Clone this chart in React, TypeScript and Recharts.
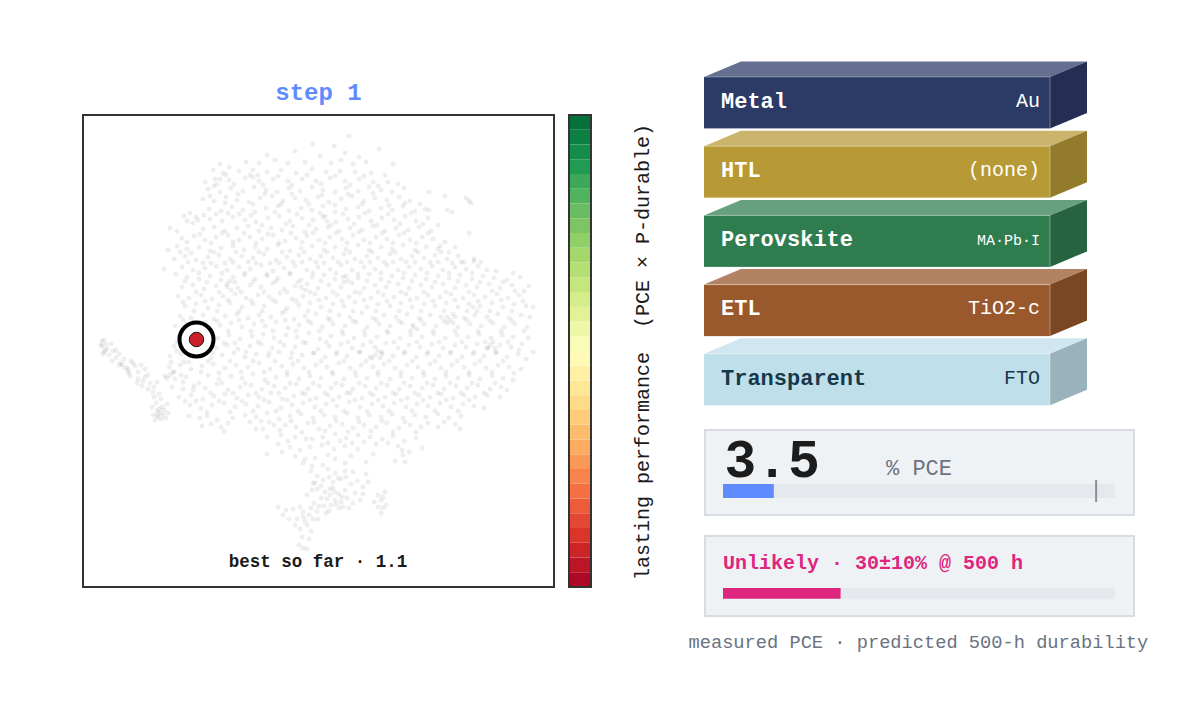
import React from 'react';
import { ScatterChart, Scatter, XAxis, YAxis, ZAxis, ReferenceArea, BarChart, Bar, ReferenceLine } from 'recharts';

const MONO = '"Liberation Mono", monospace';

// t-SNE embedding (x, y pairs in plot units)
const tsneFlat = [
266,451, 230,443, 251,441, 296,438, 184,432, 212,436, 163,425, 237,431, 262,434, 276,430,
137,423, 146,420, 176,424, 192,427, 205,424, 222,425, 248,424, 258,427, 270,423, 283,425, 310,423,
130,417, 140,414, 156,416, 170,417, 184,415, 198,417, 213,414, 229,418, 243,415, 257,416, 272,415, 288,414, 302,412,
122,405, 132,408, 146,407, 162,409, 176,406, 190,408, 205,406, 219,408, 233,406, 247,409, 262,406, 276,408, 290,405, 305,405, 134,403, 137,408, 131,401,
125,398, 137,395, 148,399, 160,396, 171,400, 183,397, 194,395, 206,399, 217,396, 229,400, 240,397, 252,395, 263,399, 275,396, 286,400, 298,397, 309,395, 321,399,
120,388, 131,386, 143,390, 154,387, 166,385, 177,389, 189,391, 200,386, 212,389, 223,387, 235,390, 246,385, 258,388, 269,391, 281,386, 292,389, 304,387, 316,390, 327,386, 346,395, 362,391, 383,389, 386,386, 388,384,
126,378, 138,376, 149,380, 160,377, 172,375, 183,379, 195,381, 206,376, 218,379, 229,377, 240,381, 252,375, 263,378, 275,380, 286,376, 298,379, 309,377, 320,381, 332,376, 342,378, 346,377, 364,377, 369,375,
101,371, 107,374, 113,370, 104,366, 110,364, 115,367, 127,368, 139,366, 150,370, 162,367, 173,365, 185,369, 196,371, 207,366, 219,369, 230,367, 242,371, 253,365, 265,368, 276,370, 288,366, 299,369, 311,367, 322,371, 333,366, 345,369,
87,359, 94,356, 120,358, 131,360, 142,356, 154,359, 165,361, 176,356, 188,359, 199,357, 210,361, 222,355, 233,358, 245,360, 256,356, 267,359, 279,357, 290,361, 302,356, 313,359, 325,357, 336,360, 348,356, 386,354,
99,349, 111,351, 122,347, 133,350, 145,352, 156,347, 167,350, 179,348, 190,352, 202,346, 213,349, 224,351, 236,347, 247,350, 259,348, 270,352, 281,347, 293,350, 304,348, 316,352, 327,347, 339,350, 350,348, 362,345,
85,337, 94,341, 104,338, 116,340, 127,336, 138,339, 150,341, 161,337, 172,340, 184,338, 195,342, 207,336, 218,339, 229,341, 241,337, 252,340, 263,338, 275,342, 286,337, 298,340, 309,338, 320,342, 332,337, 343,340, 355,338, 366,335,
91,328, 102,331, 113,327, 125,330, 136,332, 147,328, 159,331, 170,329, 181,333, 193,327, 204,330, 216,332, 227,328, 238,331, 250,329, 261,333, 272,328, 284,331, 295,329, 307,333, 318,328, 329,331, 341,329, 352,332, 364,328, 375,331, 391,328, 391,326,
81,318, 99,320, 110,317, 122,319, 133,321, 144,317, 156,320, 167,318, 178,322, 190,316, 201,319, 212,321, 224,317, 235,320, 247,318, 258,322, 269,317, 281,320, 292,318, 304,322, 315,317, 326,320, 338,318, 349,321, 360,317, 372,320, 383,318, 395,321, 404,317,
104,310, 116,308, 127,311, 138,307, 150,310, 161,312, 172,308, 184,311, 195,309, 207,313, 218,307, 229,310, 241,312, 252,308, 263,311, 275,309, 286,313, 298,308, 309,311, 320,309, 332,312, 343,308, 355,311, 366,309, 377,312, 389,308, 400,311, 411,309, 424,307, 437,310,
99,300, 110,302, 121,298, 133,301, 144,303, 155,299, 167,302, 178,300, 190,304, 201,298, 212,301, 224,303, 235,299, 246,302, 258,300, 269,304, 281,299, 292,302, 303,300, 315,303, 326,299, 338,302, 349,300, 360,303, 372,299, 383,302, 394,300, 406,303, 417,299, 429,302, 446,301,
95,291, 106,289, 118,292, 129,288, 140,291, 152,293, 163,289, 175,292, 186,290, 197,294, 209,288, 220,291, 232,293, 243,289, 254,292, 266,290, 277,294, 288,289, 300,292, 311,290, 323,293, 334,289, 345,292, 357,290, 368,293, 380,289, 391,292, 402,290, 414,293, 425,289, 436,292,
102,281, 113,283, 125,279, 136,282, 147,284, 159,280, 170,283, 181,281, 193,285, 204,279, 216,282, 227,284, 238,280, 250,283, 261,281, 272,285, 284,280, 295,283, 307,281, 318,284, 329,280, 341,283, 352,281, 363,284, 375,280, 386,283, 397,281, 409,284, 420,280, 431,283, 443,281, 450,280,
97,271, 108,269, 120,272, 131,268, 142,271, 154,273, 165,269, 176,272, 188,270, 199,274, 211,268, 222,271, 233,273, 245,269, 256,272, 267,270, 279,274, 290,269, 301,272, 313,270, 324,273, 336,269, 347,272, 358,270, 370,273, 381,269, 392,272, 404,270, 415,273, 426,269, 438,272, 447,270,
92,261, 103,263, 125,259, 137,262, 148,264, 159,260, 171,263, 182,261, 193,265, 205,259, 216,262, 228,264, 239,260, 250,263, 262,261, 273,265, 284,260, 296,263, 307,261, 319,264, 330,260, 341,263, 353,261, 364,264, 375,260, 387,263, 398,261, 410,264, 421,260, 432,263, 444,260,
96,251, 135,249, 146,252, 157,248, 169,251, 180,253, 191,249, 203,252, 214,250, 226,254, 237,248, 248,251, 260,253, 271,249, 282,252, 294,250, 305,254, 317,249, 328,252, 339,250, 351,253, 362,249, 374,252, 385,250, 396,253, 408,249, 419,252, 430,250, 445,249,
19,241, 24,238, 91,241, 133,239, 144,242, 155,238, 167,241, 178,243, 189,239, 201,242, 212,240, 223,244, 235,238, 246,241, 258,243, 269,239, 280,242, 292,240, 303,244, 315,239, 326,242, 337,240, 349,243, 360,239, 372,242, 383,240, 394,243, 405,239, 417,242, 428,240, 439,243, 450,235,
26,232, 33,229, 21,235, 87,231, 98,233, 128,229, 139,232, 151,234, 162,230, 173,233, 185,231, 196,235, 208,229, 219,232, 230,234, 242,230, 253,233, 264,231, 276,235, 287,230, 299,233, 310,231, 321,234, 333,230, 344,233, 356,231, 367,234, 379,230, 390,233, 401,231, 413,234, 424,230, 435,233,
36,222, 45,219, 52,221, 86,220, 97,222, 108,218, 119,221, 130,223, 142,219, 153,222, 165,220, 176,224, 187,218, 199,221, 210,223, 221,219, 233,222, 244,220, 256,224, 267,219, 278,222, 290,220, 301,223, 312,219, 324,222, 335,220, 347,223, 358,219, 369,222, 381,220, 392,223, 403,219, 415,222, 426,220, 438,218,
47,211, 55,208, 62,210, 82,211, 92,208, 103,210, 125,212, 136,208, 148,211, 159,209, 170,213, 182,207, 193,210, 204,212, 216,208, 227,211, 238,209, 250,213, 261,208, 273,211, 284,209, 295,212, 307,208, 318,211, 329,209, 341,212, 352,208, 363,211, 375,209, 386,212, 397,208, 409,211, 420,209, 430,207,
59,201, 65,198, 71,200, 89,200, 100,198, 111,201, 122,199, 134,203, 145,197, 157,200, 168,202, 179,198, 191,201, 202,199, 213,203, 225,198, 236,201, 248,199, 259,202, 270,198, 282,201, 293,199, 304,202, 316,198, 327,201, 339,199, 350,202, 361,198, 373,201, 384,199, 395,202, 407,198, 418,200, 424,197,
71,190, 76,193, 96,190, 108,192, 120,188, 131,191, 142,193, 154,189, 165,192, 176,190, 188,194, 199,188, 211,191, 222,193, 233,189, 245,192, 256,190, 267,194, 279,189, 290,192, 302,190, 313,193, 324,189, 336,192, 347,190, 358,193, 370,189, 381,192, 392,190, 404,192, 417,190,
79,180, 84,183, 107,182, 118,179, 129,182, 141,184, 152,180, 163,183, 175,181, 186,185, 198,179, 209,182, 220,184, 232,180, 243,183, 254,181, 266,185, 277,180, 289,183, 300,181, 311,184, 323,180, 334,183, 345,181, 357,184, 368,180, 380,183, 391,181, 401,179,
74,176, 77,174, 80,172, 75,170, 78,168, 106,171, 117,169, 124,171, 134,167, 150,169, 162,172, 173,170, 184,174, 196,168, 207,171, 218,173, 230,169, 241,172, 252,170, 264,174, 275,169, 286,172, 298,170, 309,173, 320,169, 332,172, 343,170, 355,173, 366,169, 378,171,
119,161, 138,160, 141,156, 173,158, 180,158, 191,162, 202,162, 213,160, 225,164, 236,158, 247,161, 259,163, 270,159, 281,162, 293,160, 304,164, 316,159, 327,162, 338,160, 355,160, 377,158,
184,150, 198,152, 212,150, 223,148, 240,150, 252,153, 263,149, 275,152, 287,150, 299,148, 310,151, 321,146, 333,149,
184,133, 207,140, 217,137, 195,143, 227,140, 239,142, 251,138, 262,141, 275,138, 290,133, 319,137, 326,135, 339,139, 320,132,
220,124, 232,129, 262,124, 240,122, 252,128, 312,126, 322,125, 228,116, 252,114, 270,115, 283,113, 245,118, 262,116,
232,104, 230,104, 240,107, 250,105, 258,108, 268,103, 285,105, 224,92, 234,98, 242,95, 250,99, 256,93, 262,97, 272,94, 280,93, 295,92, 302,95, 247,92, 244,88, 252,87, 258,85, 264,89, 270,84, 277,87, 248,82, 256,79, 266,79, 295,80, 300,79, 298,74, 298,87,
195,80, 200,72, 203,77, 210,78, 220,75, 226,72, 234,76, 241,81, 214,68, 222,66, 235,68, 243,74, 224,62, 217,58, 228,56, 219,50, 220,39, 224,38,
292,232, 295,236, 289,229, 297,229, 367,267, 370,264, 364,270, 372,270, 407,242, 410,245, 404,239, 412,239, 42,219, 39,222, 45,216, 87,212, 91,215, 84,209, 22,237, 20,233, 74,172, 76,178, 144,300, 148,297, 152,305, 218,300, 222,297, 260,310, 265,306, 330,262, 334,258, 240,370, 244,366, 170,410, 175,412, 390,280, 394,276,
];
// the finer points between the rows above, denser along the arm, the tail and the middle
const tsneFine = [
143,412, 151,403, 167,412, 180,402, 195,411, 209,402, 224,412, 238,403, 252,411, 267,402, 281,411, 295,401, 315,403,
127,391, 142,384, 155,393, 170,383, 182,393, 198,383, 209,393, 226,383, 239,392, 252,382, 265,393, 279,383, 290,394, 306,382, 322,384, 337,383,
121,372, 133,373, 145,374, 156,373, 168,372, 179,362, 192,375, 203,363, 214,373, 226,362, 237,374, 248,362, 260,373, 271,363, 282,374, 294,362, 305,373, 317,363, 328,374, 340,363, 355,362,
104,345, 117,353, 128,344, 139,354, 150,345, 161,354, 173,344, 185,353, 196,344, 208,354, 219,345, 230,354, 242,344, 253,354, 264,344, 276,355, 287,344, 299,354, 310,344, 321,354, 333,344, 345,354, 357,341, 372,340,
97,335, 108,334, 120,324, 131,335, 142,324, 153,335, 165,325, 176,335, 187,324, 199,335, 210,325, 221,335, 233,325, 244,335, 255,325, 267,335, 278,325, 289,335, 301,325, 312,335, 323,325, 335,335, 347,325, 358,335, 369,324, 381,325, 398,325,
93,313, 105,325, 116,314, 128,324, 139,314, 150,325, 162,314, 173,324, 184,313, 196,324, 207,314, 219,325, 230,314, 241,324, 253,314, 264,325, 275,313, 287,325, 298,314, 310,325, 321,314, 332,325, 344,314, 355,325, 366,314, 378,325, 389,314, 413,316, 430,314,
102,306, 113,295, 124,305, 136,295, 147,306, 158,295, 170,305, 181,295, 193,306, 204,295, 215,305, 227,295, 238,306, 250,295, 261,305, 272,295, 284,306, 295,295, 306,305, 318,295, 329,306, 341,295, 352,305, 363,295, 375,306, 386,295, 397,305, 409,296, 420,305, 432,296, 441,296,
100,285, 111,276, 122,286, 134,276, 145,287, 156,276, 168,286, 179,276, 190,287, 202,276, 213,286, 225,276, 236,287, 247,276, 259,286, 270,276, 281,287, 293,276, 304,286, 316,276, 327,287, 338,276, 350,286, 361,276, 372,287, 384,276, 395,286, 407,276, 418,287, 429,276, 440,286,
100,267, 111,265, 122,265, 134,266, 145,256, 156,267, 168,256, 179,266, 190,256, 202,267, 213,256, 225,266, 236,256, 247,267, 259,256, 270,266, 281,256, 293,267, 304,256, 316,266, 327,256, 338,267, 350,256, 361,266, 372,256, 384,267, 395,256, 407,266, 418,256, 429,266, 441,256,
19,246, 21,247, 23,243, 18,242, 28,243, 30,236, 36,233, 41,228, 48,226, 29,226, 38,224, 33,237, 46,214, 50,224, 55,215, 58,222, 62,218, 54,204, 60,206, 67,204, 65,212, 70,195, 74,205, 78,188, 73,184, 69,180, 72,167, 81,177, 83,169, 70,172, 85,174,
94,245, 88,225, 94,236, 101,225, 90,215, 98,212, 106,225, 100,205, 110,197, 118,215, 127,244, 130,234, 141,244, 152,244, 163,235, 175,245, 186,234, 197,245, 209,234, 220,245, 231,234, 243,245, 254,235, 265,245, 277,235, 288,245, 299,235, 311,245, 322,235, 334,245, 345,235, 356,245, 368,235, 379,245, 391,235, 402,245, 413,235, 425,245, 436,237, 443,228,
125,226, 136,214, 147,226, 158,215, 170,226, 181,215, 192,226, 204,215, 215,226, 226,215, 238,226, 249,215, 261,226, 272,215, 283,226, 295,215, 306,226, 318,215, 329,226, 340,215, 352,226, 363,215, 374,226, 386,215, 397,226, 409,215, 420,226, 431,214,
116,204, 128,194, 139,204, 150,194, 162,204, 173,194, 185,204, 196,194, 207,204, 219,194, 230,204, 242,194, 253,204, 264,194, 276,204, 287,194, 298,204, 310,194, 321,204, 332,194, 344,204, 355,194, 367,204, 378,194, 389,204, 401,194, 412,204,
102,186, 113,186, 124,175, 136,186, 147,175, 159,186, 170,176, 181,187, 193,176, 204,187, 215,176, 227,187, 238,176, 250,187, 261,176, 272,187, 284,176, 295,187, 306,176, 318,187, 329,176, 340,187, 352,176, 363,187, 375,176, 386,187,
128,163, 145,164, 167,165, 178,166, 186,165, 197,157, 208,166, 219,155, 231,165, 242,156, 253,166, 265,155, 276,165, 288,156, 299,166, 310,155, 322,165, 333,155, 345,164, 361,165, 372,163,
205,146, 229,148, 245,144, 257,146, 269,144, 281,145, 293,143, 305,144, 315,141, 199,135, 212,131, 222,128, 245,132, 268,131, 283,125, 229,121, 234,111, 238,101, 246,110, 255,109, 263,110, 274,106, 280,100, 229,97, 238,89, 231,84, 247,98, 252,95, 259,90, 253,83, 260,80, 246,76, 236,81, 228,79, 217,80, 206,68, 212,62, 220,70, 230,68, 226,48, 216,42, 291,85, 300,90, 303,82,
];
const bestPoint = [{ x: 113.5, y: 247.5 }];
const bestLabel = 'best so far · 1.1';
const plotTitle = 'step 1';

const colorStops = ['#ad0826','#bc1626','#cc2527','#da3529','#e34932','#ec5c3b','#f46f44','#f7834d','#fa9857','#fdac60','#fdbc6d','#fecc7a','#fedb87','#fee796','#fff0a5','#fffab5','#f9fcb7','#edf7a7','#e1f297','#d4ed88','#c4e67d','#b4df72','#a5d86a','#90d068','#7ec465','#68bd63','#51b35e','#3ca858','#219b51','#148d4b','#0c7f43','#04703b'];
const colorTicks = [0,1,2,3,4,5,6,7,8,9,10,11,12,13,14,15,16];
const colorLabelTicks = [0,4,8,12,16];

const layerNames = ['Metal','HTL','Perovskite','ETL','Transparent'];
const layerMaterials = ['Au','(none)','MA·Pb·I','TiO2-c','FTO'];
const layerThickness = [1,1,1,1,1];
const layerFront = ['#2c3a66','#b79a35','#2f7d4f','#9a592c','#bfdfeb'];
const layerTop = ['#656f90','#cbb56d','#67a07e','#b38263','#d0e7f1'];
const layerSide = ['#232e52','#927b2a','#25643f','#7b4723','#99b2bc'];
const layerInk = ['#ffffff','#ffffff','#ffffff','#ffffff','#16384a'];
const materialSize = [20,20,15,20,20];

const pceValue = 3.5;
const pceMax = 27;
const pceRecord = 25.7;
const durabilityValue = 30;

const tsneAll = [...tsneFlat, ...tsneFine];
const tsneData: {x:number;y:number}[] = [];
for (let i = 0; i + 1 < tsneAll.length; i += 2) tsneData.push({ x: tsneAll[i], y: tsneAll[i + 1] });
const colorRow: Record<string, number | string> = { name: 'scale' };
colorStops.forEach((_, i) => { colorRow['b' + i] = 0.5; });
const layerData = layerNames.map((name, i) => ({ name, material: layerMaterials[i], t: layerThickness[i], i }));

const LayerShape = (p: any) => {
  const { x, y, width, height, payload } = p;
  const i = payload.i;
  const dx = 37, dy = 15.5;
  const r = x + width, b = y + height;
  return (
    <g>
      <polygon points={`${x},${y} ${x + dx},${y - dy} ${r + dx},${y - dy} ${r},${y}`} fill={layerTop[i]} />
      <polygon points={`${r},${y} ${r + dx},${y - dy} ${r + dx},${b - dy} ${r},${b}`} fill={layerSide[i]} />
      <rect x={x} y={y} width={width} height={height} fill={layerFront[i]} />
      <polyline points={`${x},${y} ${r},${y} ${r},${b}`} fill="none" stroke="#fff" strokeOpacity={0.35} strokeWidth={1} />
      <text x={x + 17} y={y + height / 2 + 5} fontFamily={MONO} fontWeight={700} fontSize={22} fill={layerInk[i]}>{payload.name}</text>
      <text x={r - 10} y={y + height / 2 + 4} textAnchor="end" fontFamily={MONO} fontSize={materialSize[i]} fill={layerInk[i]}>{payload.material}</text>
    </g>
  );
};

const ColorTick = (p: any) => {
  const v = p.payload.value;
  const major = colorLabelTicks.includes(v);
  return (
    <g>
      <line x1={p.x - 4} x2={p.x} y1={p.y} y2={p.y} stroke="#333" strokeWidth={1} />
      {major && <text x={p.x + 12} y={p.y + 5} fontFamily={MONO} fontSize={17} letterSpacing={0.5} fill="#1a1a1a">{v}</text>}
    </g>
  );
};

const Meter = ({ value, max, fill, mark, height }: any) => (
  <BarChart width={392} height={height} data={[{ name: 'v', value }]} layout="vertical" margin={{ top: 0, right: 0, bottom: 0, left: 0 }}>
    <XAxis type="number" domain={[0, max]} hide />
    <YAxis type="category" dataKey="name" hide />
    <Bar dataKey="value" fill={fill} barSize={mark ? 14 : 12} background={{ fill: '#e5e9ee' }} isAnimationActive={false} />
    {mark != null && <ReferenceLine x={mark} stroke="#8c8f92" strokeWidth={2} />}
  </BarChart>
);

const cardStyle: React.CSSProperties = { position: 'absolute', left: 703.5, width: 431, boxSizing: 'border-box', background: '#eef2f5', border: '2.5px solid #d8dce1' };
const abs = (left: number, top: number, extra: React.CSSProperties): React.CSSProperties => ({ position: 'absolute', left, top, fontFamily: MONO, whiteSpace: 'pre', lineHeight: 1, ...extra });

export default function App() {
  return (
    <div style={{ position: 'absolute', left: 0, top: 0, width: 1188, height: 702, background: '#fff', overflow: 'hidden' }}>
      <div style={{ position: 'absolute', left: 0, top: 0 }}>
        <ScatterChart width={560} height={702} margin={{ top: 115, right: 6, bottom: 115, left: 83 }}>
          <XAxis type="number" dataKey="x" domain={[0, 471]} tick={false} axisLine={false} tickLine={false} height={0}
            label={{ value: 't-SNE 1', position: 'bottom', offset: 40, fontFamily: MONO, fontSize: 20, fill: '#1a1a1a' }} />
          <YAxis type="number" dataKey="y" domain={[0, 472]} tick={false} axisLine={false} tickLine={false} width={0}
            label={{ value: 't-SNE 2', position: 'left', angle: -90, offset: 44, fontFamily: MONO, fontSize: 20, fill: '#1a1a1a' }} />
          <ZAxis range={[20, 20]} />
          <Scatter data={tsneData} isAnimationActive={false} shape={(p: any) => <circle cx={p.cx} cy={p.cy} r={2.5} fill="#000" fillOpacity={0.065} />} />
          <ReferenceArea x1={0} x2={471} y1={0} y2={472} fill="none" stroke="#333" strokeWidth={2} ifOverflow="visible" />
          <Scatter data={bestPoint} isAnimationActive={false} shape={(p: any) => (
            <g>
              <circle cx={p.cx} cy={p.cy} r={17} fill="#fff" stroke="#000" strokeWidth={4} />
              <circle cx={p.cx} cy={p.cy} r={7.2} fill="#c9202a" stroke="#111" strokeWidth={1} />
            </g>
          )} />
          <text x={318.5} y={100} textAnchor="middle" fontFamily={MONO} fontWeight={700} fontSize={24} fill="#5f8bff">{plotTitle}</text>
          <text x={318} y={567} textAnchor="middle" fontFamily={MONO} fontWeight={700} fontSize={17.5} fill="#1a1a1a" stroke="#fff" strokeWidth={4} paintOrder="stroke">{bestLabel}</text>
        </ScatterChart>
      </div>

      <div style={{ position: 'absolute', left: 560, top: 0 }}>
        <BarChart width={110} height={702} data={[colorRow]} barCategoryGap={0} margin={{ top: 115, right: 79, bottom: 115, left: 9 }}>
          <XAxis dataKey="name" hide />
          <YAxis orientation="right" domain={[0, 16]} width={0} tick={false} axisLine={false} tickLine={false} />
          {colorStops.map((c, i) => <Bar key={c} dataKey={'b' + i} stackId="s" fill={c} isAnimationActive={false} />)}
        </BarChart>
      </div>
      <div style={{ position: 'absolute', left: 560, top: 0 }}>
        <BarChart width={110} height={702} data={[{ name: 'scale' }]} margin={{ top: 115, right: 79, bottom: 115, left: 9 }}>
          <XAxis dataKey="name" hide />
          <YAxis orientation="right" domain={[0, 16]} ticks={colorTicks} interval={0} width={0} axisLine={false} tickLine={false} tick={ColorTick} />
          <rect x={9} y={115} width={22} height={472} fill="none" stroke="#333" strokeWidth={2} />
          <text transform="translate(89,352) rotate(-90)" textAnchor="middle" fontFamily={MONO} fontSize={20} fill="#1a1a1a">{'lasting performance\u00a0\u00a0(PCE × P-durable)'}</text>
        </BarChart>
      </div>

      <div style={{ position: 'absolute', left: 690, top: 50 }}>
        <BarChart width={410} height={380} data={layerData} layout="vertical" margin={{ top: 17.9, right: 50, bottom: 15.9, left: 14 }}>
          <XAxis type="number" domain={[0, 1]} hide />
          <YAxis type="category" dataKey="name" hide />
          <Bar dataKey="t" barSize={51.5} shape={LayerShape} isAnimationActive={false} />
        </BarChart>
      </div>

      <div style={{ ...cardStyle, top: 428.5, height: 87.5 }} />
      <div style={abs(724.5, 436.5, { fontSize: 53, fontWeight: 700, color: '#1c1c1c' })}>{pceValue.toFixed(1)}</div>
      <div style={abs(886, 458.5, { fontSize: 22, color: '#6b7280' })}>% PCE</div>
      <div style={{ position: 'absolute', left: 723, top: 480 }}>
        <Meter value={pceValue} max={pceMax} fill="#5f8bff" mark={pceRecord} height={22} />
      </div>

      <div style={{ ...cardStyle, top: 535, height: 82 }} />
      <div style={abs(723, 554.2, { fontSize: 20, fontWeight: 700, color: '#de267f' })}>{'Unlikely · 30±10% @ 500 h'}</div>
      <div style={{ position: 'absolute', left: 723, top: 587 }}>
        <Meter value={durabilityValue} max={100} fill="#de267f" height={12} />
      </div>

      <div style={abs(688.5, 633.7, { fontSize: 18.7, color: '#6b7280' })}>{'measured PCE · predicted 500-h durability'}</div>
    </div>
  );
}
